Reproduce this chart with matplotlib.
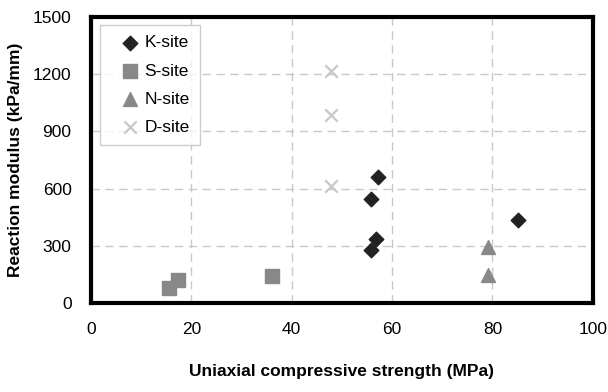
import matplotlib.pyplot as plt

plt.rcParams['font.family'] = ['Liberation Sans', 'DejaVu Sans']

# данные
k_x = [57.1, 55.7, 56.7, 55.7, 85.1]
k_y = [658, 546, 335, 279, 437]
s_x = [15.5, 17.3, 36.1]
s_y = [77, 121, 142]
n_x = [79.1, 79.1]
n_y = [296, 147]
d_x = [47.8, 47.8, 47.8]
d_y = [1217, 984, 612]

x_ticks = [0, 20, 40, 60, 80, 100]
y_ticks = [0, 300, 600, 900, 1200, 1500]

fig = plt.figure(figsize=(6.08, 3.92), dpi=100)
ax = fig.add_axes([0.1497, 0.227, 0.8253, 0.73])

ax.scatter(k_x, k_y, marker='D', s=55, color='#222222', label='K-site', zorder=3)
ax.scatter(s_x, s_y, marker='s', s=90, color='#888888', label='S-site', zorder=3)
ax.scatter(n_x, n_y, marker='^', s=100, color='#888888', label='N-site', zorder=3)
ax.scatter(d_x, d_y, marker='x', s=80, color='#c8c8c8', linewidths=1.6,
           label='D-site', zorder=3)

ax.set_xlim(0, 100)
ax.set_ylim(0, 1500)
ax.set_xticks(x_ticks)
ax.set_yticks(y_ticks)
ax.tick_params(length=0, labelsize=12.5)
ax.tick_params(axis='x', pad=14)
ax.tick_params(axis='y', pad=14)
ax.grid(True, color='#c8c8c8', linestyle=(0, (6, 4)), linewidth=1)
ax.set_axisbelow(True)
for sp in ax.spines.values():
    sp.set_linewidth(3)
    sp.set_color('black')

ax.set_xlabel('Uniaxial compressive strength (MPa)', fontsize=12.5,
              fontweight='bold')
ax.set_ylabel('Reaction modulus (kPa/mm)', fontsize=12.5, fontweight='bold')
ax.xaxis.set_label_coords(0.5, -0.241)
ax.yaxis.set_label_coords(-0.151, 0.5)
ax.xaxis.label.set_va('center')
ax.yaxis.label.set_va('center')

leg = ax.legend(loc='upper left', bbox_to_anchor=(0.018, 0.972), fontsize=12.5,
                frameon=True, fancybox=False, borderpad=0.6, labelspacing=0.75,
                handletextpad=-0.25, handlelength=2.2, borderaxespad=0)
leg.get_frame().set_edgecolor('#c0c0c0')
leg.get_frame().set_linewidth(1)

plt.savefig('out.png', dpi=100)
